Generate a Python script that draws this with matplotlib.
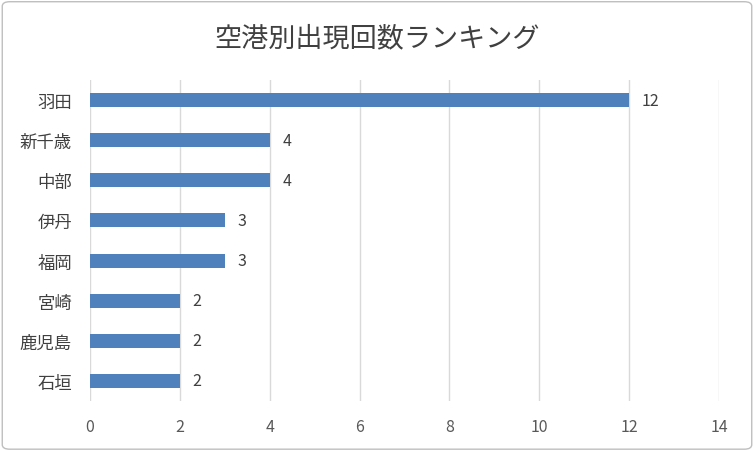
import matplotlib.pyplot as plt
from matplotlib.patches import FancyBboxPatch

plt.rcParams['font.family'] = ['Noto Sans CJK JP', 'DejaVu Sans']

airports = ['羽田', '新千歳', '中部', '伊丹', '福岡', '宮崎', '鹿児島', '石垣']
counts = [12, 4, 4, 3, 3, 2, 2, 2]
x_ticks = [0, 2, 4, 6, 8, 10, 12, 14]

fig = plt.figure(figsize=(7.54, 4.52), dpi=100)
border = FancyBboxPatch((0.003, 0.004), 0.994, 0.99, boxstyle='round,pad=0,rounding_size=0.01',
                        transform=fig.transFigure, fill=False, edgecolor='#BFBFBF', linewidth=1)
fig.patches.append(border)

ax = fig.add_axes([0.1194, 0.1106, 0.8342, 0.7102])
y = list(range(len(airports)))
ax.barh(y, counts, height=0.35, color='#4F81BD', zorder=3)
for yi, c in zip(y, counts):
    ax.text(c + 0.28, yi, str(c), va='center', ha='left', fontsize=11.5, color='#404040')

ax.set_ylim(len(airports) - 0.5, -0.5)
ax.set_xlim(0, 14)
ax.set_xticks(x_ticks)
ax.set_yticks(y)
ax.set_yticklabels(airports, fontsize=12.5, color='#404040')
ax.tick_params(axis='x', labelsize=11.5, colors='#595959', length=0, pad=12)
ax.tick_params(axis='y', length=0, pad=13)
ax.grid(axis='x', color='#D9D9D9', linewidth=1, zorder=0)
for s in ax.spines.values():
    s.set_visible(False)

fig.text(0.5, 0.915, '空港別出現回数ランキング', ha='center', va='center', fontsize=19.5, color='#404040')

fig.savefig('out.png', dpi=100)
